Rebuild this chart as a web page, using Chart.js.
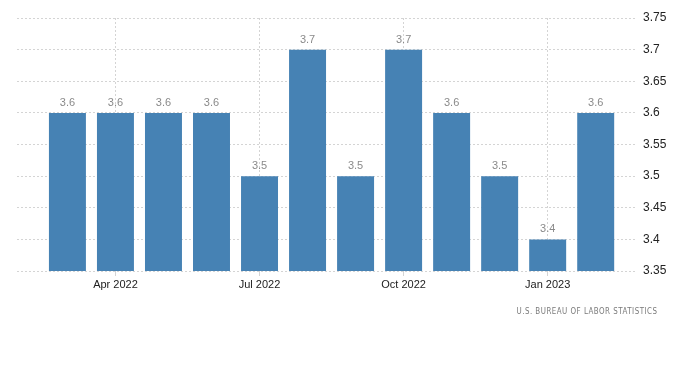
<!DOCTYPE html>
<html>
<head>
<meta charset="utf-8">
<script src="https://cdn.jsdelivr.net/npm/chart.js@4"></script>
<style>
  body { margin: 0; background: #fff; }
  #wrap { position: relative; width: 700px; height: 369px; }
  #source {
    position: absolute; right: 43px; top: 306px;
    font: 9px "DejaVu Sans", Arial, sans-serif;
    letter-spacing: 0.6px; color: #7a7a7a;
    transform: scaleX(0.79); transform-origin: right center;
  }
</style>
</head>
<body>
<div id="wrap">
  <canvas id="chart" width="700" height="369"></canvas>
  <div id="source">U.S. BUREAU OF LABOR STATISTICS</div>
</div>
<script>
// monthly rate, Mar 2022 - Feb 2023
const months = ['Mar 2022', 'Apr 2022', 'May 2022', 'Jun 2022', 'Jul 2022', 'Aug 2022',
                'Sep 2022', 'Oct 2022', 'Nov 2022', 'Dec 2022', 'Jan 2023', 'Feb 2023'];
const values = [3.6, 3.6, 3.6, 3.6, 3.5, 3.7, 3.5, 3.7, 3.6, 3.5, 3.4, 3.6];
// which months get a label on the x axis
const tickMonths = [1, 4, 7, 10];
const yTicks = [3.35, 3.4, 3.45, 3.5, 3.55, 3.6, 3.65, 3.7, 3.75];

const fontFamily = '"Liberation Sans", Arial, sans-serif';

// draw the value above each bar
const valueLabels = {
  id: 'valueLabels',
  afterDatasetsDraw(chart) {
    const ctx = chart.ctx;
    const meta = chart.getDatasetMeta(0);
    ctx.save();
    ctx.font = '11px ' + fontFamily;
    ctx.fillStyle = '#8a8a8a';
    ctx.textAlign = 'center';
    ctx.textBaseline = 'alphabetic';
    meta.data.forEach((bar, i) => {
      ctx.fillText(values[i].toFixed(1), bar.x, bar.y - 7);
    });
    ctx.restore();
  }
};

new Chart(document.getElementById('chart'), {
  type: 'bar',
  data: {
    datasets: [{
      data: values.map((v, i) => ({ x: i, y: v })),
      backgroundColor: '#4682B4',
      barPercentage: 0.77,
      categoryPercentage: 1
    }]
  },
  options: {
    responsive: false,
    animation: false,
    layout: { padding: { left: 17, top: 18, bottom: 70, right: 0 } },
    plugins: {
      legend: { display: false },
      tooltip: { enabled: false }
    },
    scales: {
      x: {
        type: 'linear',
        offset: false,
        min: -1.05,
        max: 11.86,
        afterBuildTicks: (axis) => { axis.ticks = tickMonths.map(v => ({ value: v })); },
        afterFit: (axis) => { axis.height = 28; },
        ticks: {
          autoSkip: false,
          maxRotation: 0,
          color: '#222',
          font: { family: fontFamily, size: 11 },
          padding: 2,
          callback: (v) => months[v]
        },
        grid: { color: '#d4d4d4', tickLength: 5, offset: false },
        border: { display: false, dash: [2, 2] }
      },
      y: {
        position: 'right',
        min: 3.35,
        max: 3.75,
        afterBuildTicks: (axis) => { axis.ticks = yTicks.map(v => ({ value: v })); },
        afterFit: (axis) => { axis.width = 63; },
        ticks: {
          color: '#222',
          font: { family: fontFamily, size: 12 },
          padding: 6,
          callback: (v) => String(+v.toFixed(2))
        },
        grid: { color: '#d4d4d4', drawTicks: false },
        border: { display: false, dash: [2, 2] }
      }
    }
  },
  plugins: [valueLabels]
});
</script>
</body>
</html>
